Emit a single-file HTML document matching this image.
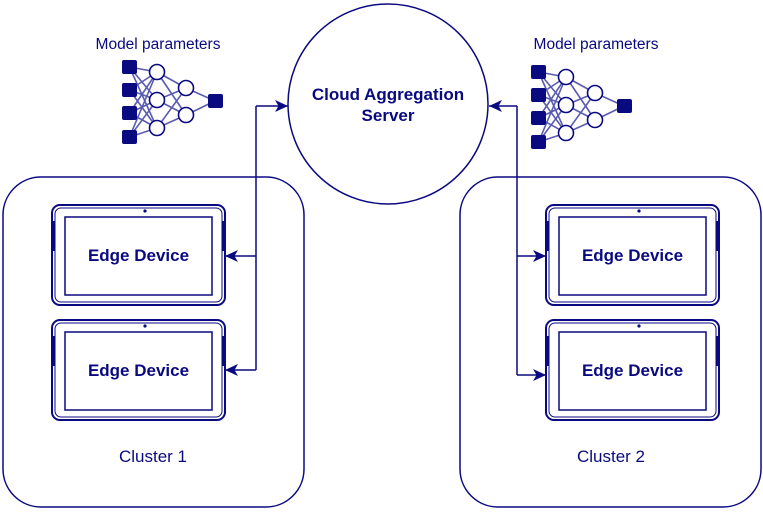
<!DOCTYPE html>
<html><head><meta charset="utf-8"><style>
html,body{margin:0;padding:0;background:#fff;}
svg{display:block;}
text{font-family:"Liberation Sans",Arial,sans-serif;fill:#0a0a80;}
</style></head><body>
<svg width="763" height="513" viewBox="0 0 763 513" xmlns="http://www.w3.org/2000/svg">
<defs>
<marker id="ar" markerWidth="14" markerHeight="12" refX="13" refY="6" orient="auto" markerUnits="userSpaceOnUse">
<path d="M0,0 L13,6 L0,12 L3.5,6 Z" fill="#0a0a80"/>
</marker>
<g id="net">
<g stroke="#4a4aa8" stroke-width="1.6" opacity="0.9">
<line x1="129.5" y1="67" x2="157" y2="72"/><line x1="129.5" y1="67" x2="157" y2="100"/><line x1="129.5" y1="67" x2="157" y2="128"/>
<line x1="129.5" y1="90" x2="157" y2="72"/><line x1="129.5" y1="90" x2="157" y2="100"/><line x1="129.5" y1="90" x2="157" y2="128"/>
<line x1="129.5" y1="113" x2="157" y2="72"/><line x1="129.5" y1="113" x2="157" y2="100"/><line x1="129.5" y1="113" x2="157" y2="128"/>
<line x1="129.5" y1="137" x2="157" y2="72"/><line x1="129.5" y1="137" x2="157" y2="100"/><line x1="129.5" y1="137" x2="157" y2="128"/>
<line x1="157" y1="72" x2="186" y2="88"/><line x1="157" y1="72" x2="186" y2="115"/>
<line x1="157" y1="100" x2="186" y2="88"/><line x1="157" y1="100" x2="186" y2="115"/>
<line x1="157" y1="128" x2="186" y2="88"/><line x1="157" y1="128" x2="186" y2="115"/>
<line x1="186" y1="88" x2="215" y2="101"/><line x1="186" y1="115" x2="215" y2="101"/>
</g>
<g fill="#0a0a80">
<rect x="122" y="60" width="15" height="14" rx="2"/><rect x="122" y="83" width="15" height="14" rx="2"/>
<rect x="122" y="106" width="15" height="14" rx="2"/><rect x="122" y="130" width="15" height="14" rx="2"/>
<rect x="208" y="94" width="15" height="14" rx="2"/>
</g>
<g fill="#fff" stroke="#0a0a80" stroke-width="1.6">
<circle cx="157" cy="72" r="7.5"/><circle cx="157" cy="100" r="7.5"/><circle cx="157" cy="128" r="7.5"/>
<circle cx="186" cy="88" r="7.5"/><circle cx="186" cy="115" r="7.5"/>
</g>
</g>
<g id="tab">
<rect x="0" y="0" width="173" height="100" rx="8" fill="#fff" stroke="#0a0a80" stroke-width="2"/>
<rect x="3" y="3" width="167" height="94" rx="6" fill="none" stroke="#0a0a80" stroke-width="1"/>
<rect x="13" y="12" width="147" height="78" fill="none" stroke="#0a0a80" stroke-width="1.5"/>
<rect x="1" y="16" width="2.5" height="30" fill="#0a0a80"/>
<rect x="169.5" y="16" width="2.5" height="30" fill="#0a0a80"/>
<circle cx="93" cy="6" r="1.6" fill="#0a0a80"/>
<text x="86.5" y="56" text-anchor="middle" font-size="17" font-weight="bold">Edge Device</text>
</g>
</defs>

<rect x="3" y="177" width="301" height="330" rx="38" fill="none" stroke="#0a0a80" stroke-width="1.5"/>
<rect x="460" y="177" width="301" height="330" rx="38" fill="none" stroke="#0a0a80" stroke-width="1.5"/>

<circle cx="388" cy="104" r="100" fill="#fff" stroke="#0a0a80" stroke-width="1.5"/>
<text x="388" y="100" text-anchor="middle" font-size="17" font-weight="bold">Cloud Aggregation</text>
<text x="388" y="121" text-anchor="middle" font-size="17" font-weight="bold">Server</text>

<text x="158" y="49" text-anchor="middle" font-size="15.5">Model parameters</text>
<text x="596" y="49" text-anchor="middle" font-size="15.5">Model parameters</text>
<use href="#net"/>
<use href="#net" transform="translate(409,5)"/>

<use href="#tab" transform="translate(52,205)"/>
<use href="#tab" transform="translate(52,320)"/>
<use href="#tab" transform="translate(546,205)"/>
<use href="#tab" transform="translate(546,320)"/>

<g stroke="#0a0a80" stroke-width="1.5" fill="none">
<line x1="256" y1="106" x2="288" y2="106" marker-end="url(#ar)"/>
<line x1="256" y1="106" x2="256" y2="370"/>
<line x1="256" y1="256" x2="225" y2="256" marker-end="url(#ar)"/>
<line x1="256" y1="370" x2="225" y2="370" marker-end="url(#ar)"/>
<line x1="517" y1="106" x2="489" y2="106" marker-end="url(#ar)"/>
<line x1="517" y1="106" x2="517" y2="375"/>
<line x1="517" y1="256" x2="546" y2="256" marker-end="url(#ar)"/>
<line x1="517" y1="375" x2="546" y2="375" marker-end="url(#ar)"/>
</g>

<text x="153" y="462" text-anchor="middle" font-size="17">Cluster 1</text>
<text x="611" y="462" text-anchor="middle" font-size="17">Cluster 2</text>
</svg>
</body></html>
